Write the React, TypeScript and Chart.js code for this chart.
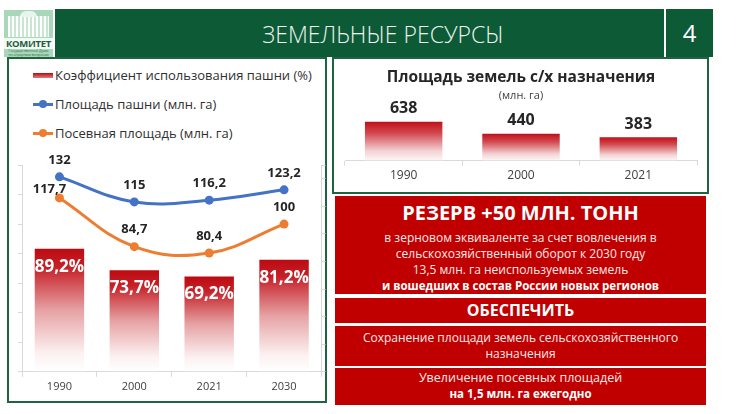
import React, { useEffect, useRef } from 'react';
import { Chart, registerables } from 'chart.js';

Chart.register(...registerables);

const FONT = "'Open Sans', 'DejaVu Sans', sans-serif";
Chart.defaults.font.family = FONT;

// ---- data ----
const years = ['1990', '2000', '2021', '2030'];
const arableUsePct = [89.2, 73.7, 69.2, 81.2];
const arableArea = [132, 115, 116.2, 123.2];
const sownArea = [117.7, 84.7, 80.4, 100];
const seriesNames = [
  'Коэффициент использования пашни (%)',
  'Площадь пашни (млн. га)',
  'Посевная площадь (млн. га)',
];

const landYears = ['1990', '2000', '2021'];
const agriLand = [638, 440, 383];
const landTitle = 'Площадь земель с/х назначения';
const landSubtitle = '(млн. га)';

const fmt = (v: number) => String(v).replace('.', ',');

function redFade(stops: [number, string][]) {
  return (ctx: any) => {
    const chart = ctx.chart;
    if (!chart.chartArea || ctx.type !== 'data') return '#c00000';
    const scale = chart.scales[ctx.dataset.yAxisID || 'y'];
    if (!scale) return '#c00000';
    const top = scale.getPixelForValue(ctx.raw);
    const base = scale.getPixelForValue(0);
    if (!isFinite(top) || !isFinite(base) || top === base) return '#c00000';
    const g = chart.ctx.createLinearGradient(0, top, 0, base);
    stops.forEach(([o, c]) => g.addColorStop(o, c));
    return g;
  };
}

const leftLabels = {
  id: 'leftLabels',
  afterDatasetsDraw(chart: any) {
    const ctx = chart.ctx;
    chart.data.datasets.forEach((ds: any, di: number) => {
      const meta = chart.getDatasetMeta(di);
      meta.data.forEach((el: any, i: number) => {
        const v = ds.data[i];
        ctx.save();
        ctx.textAlign = 'center';
        ctx.textBaseline = 'middle';
        if (ds.type === 'bar') {
          ctx.font = `bold 17px ${FONT}`;
          ctx.fillStyle = '#ffffff';
          ctx.fillText(fmt(v) + '%', el.x, el.y + 18);
        } else {
          ctx.font = `bold 13px ${FONT}`;
          ctx.fillStyle = '#262626';
          let dx = 0;
          let dy = -17;
          if (di === 2 && i === 0) {
            dx = -10;
            dy = -9;
          }
          ctx.fillText(fmt(v), el.x + dx, el.y + dy);
        }
        ctx.restore();
      });
    });
  },
};

const rightLabels = {
  id: 'rightLabels',
  afterDatasetsDraw(chart: any) {
    const ctx = chart.ctx;
    const ds = chart.data.datasets[0];
    chart.getDatasetMeta(0).data.forEach((el: any, i: number) => {
      ctx.save();
      ctx.textAlign = 'center';
      ctx.textBaseline = 'middle';
      ctx.font = `bold 16px ${FONT}`;
      ctx.fillStyle = '#262626';
      ctx.fillText(fmt(ds.data[i]), el.x, el.y - 13);
      ctx.restore();
    });
  },
};

const GREEN = '#0d5a37';
const BORDER = '#1f6342';
const RED = '#c00000';

export default function App() {
  const leftRef = useRef<HTMLCanvasElement>(null);
  const rightRef = useRef<HTMLCanvasElement>(null);

  useEffect(() => {
    const axisGrid = { drawOnChartArea: false, drawTicks: true, tickLength: 4, color: '#d9d9d9' };
    const c1 = new Chart(leftRef.current as HTMLCanvasElement, {
      type: 'bar',
      data: {
        labels: years,
        datasets: [
          {
            type: 'bar',
            label: seriesNames[0],
            data: arableUsePct,
            yAxisID: 'y1',
            backgroundColor: redFade([
              [0, '#bd0a12'],
              [0.15, '#c52027'],
              [0.5, '#e6a2a4'],
              [0.85, '#fcf1f1'],
              [1, '#ffffff'],
            ]),
            barPercentage: 1,
            categoryPercentage: 0.66,
            order: 2,
          } as any,
          {
            type: 'line',
            label: seriesNames[1],
            data: arableArea,
            yAxisID: 'y',
            borderColor: '#4472c4',
            backgroundColor: '#4472c4',
            borderWidth: 3,
            pointRadius: 4.5,
            pointBorderWidth: 0,
            tension: 0.4,
            order: 0,
          } as any,
          {
            type: 'line',
            label: seriesNames[2],
            data: sownArea,
            yAxisID: 'y',
            borderColor: '#ed7d31',
            backgroundColor: '#ed7d31',
            borderWidth: 3,
            pointRadius: 4.5,
            pointBorderWidth: 0,
            tension: 0.4,
            order: 1,
          } as any,
        ],
      },
      options: {
        animation: false,
        responsive: true,
        maintainAspectRatio: false,
        layout: { padding: { left: 8, right: 0, top: 15, bottom: 0 } },
        plugins: { legend: { display: false }, tooltip: { enabled: false } },
        scales: {
          x: {
            grid: { drawOnChartArea: false, drawTicks: true, tickLength: 5, color: '#d9d9d9' },
            border: { color: '#d9d9d9' },
            ticks: { color: '#404040', font: { size: 11 }, padding: 3 },
          },
          y: {
            position: 'left',
            min: 0,
            max: 140,
            ticks: { stepSize: 20, display: false },
            grid: axisGrid,
            border: { color: '#d9d9d9' },
          },
          y1: {
            position: 'right',
            min: 0,
            max: 150,
            ticks: { stepSize: 20, display: false },
            grid: axisGrid,
            border: { color: '#d9d9d9' },
          },
        },
      } as any,
      plugins: [leftLabels],
    });

    const c2 = new Chart(rightRef.current as HTMLCanvasElement, {
      type: 'bar',
      data: {
        labels: landYears,
        datasets: [
          {
            label: landTitle,
            data: agriLand,
            backgroundColor: redFade([
              [0, '#c0101a'],
              [0.3, '#d24a50'],
              [0.75, '#f3d2d3'],
              [1, '#fdf7f7'],
            ]),
            barPercentage: 1,
            categoryPercentage: 0.66,
          } as any,
        ],
      },
      options: {
        animation: false,
        responsive: true,
        maintainAspectRatio: false,
        layout: { padding: { left: 11, right: 9, top: 0, bottom: 0 } },
        plugins: {
          legend: { display: false },
          tooltip: { enabled: false },
          title: {
            display: true,
            text: landTitle,
            color: '#262626',
            font: { size: 15.5, weight: 'bold' },
            padding: { top: 8, bottom: 3 },
          },
          subtitle: {
            display: true,
            text: landSubtitle,
            color: '#404040',
            font: { size: 11 },
            padding: { top: 0, bottom: 3 },
          },
        },
        scales: {
          x: {
            grid: { drawOnChartArea: false, drawTicks: true, tickLength: 5, color: '#d9d9d9' },
            border: { color: '#d9d9d9' },
            ticks: { color: '#404040', font: { size: 12 }, padding: 3 },
          },
          y: { display: false, min: 0, max: 900 },
        },
      } as any,
      plugins: [rightLabels],
    });

    return () => {
      c1.destroy();
      c2.destroy();
    };
  }, []);

  const abs = (l: number, t: number, w: number, h: number): React.CSSProperties => ({
    position: 'absolute',
    left: l,
    top: t,
    width: w,
    height: h,
    boxSizing: 'border-box',
  });

  const legendRow = (i: number, y: number) => {
    const swatch =
      i === 0 ? (
        <div
          style={{
            ...abs(33, y - 2, 20, 5),
            background: 'linear-gradient(#b80a10, #e07a80)',
          }}
        />
      ) : (
        <>
          <div style={{ ...abs(33, y - 1.5, 20, 3), background: i === 1 ? '#4472c4' : '#ed7d31' }} />
          <div
            style={{
              ...abs(39, y - 4, 8, 8),
              borderRadius: '50%',
              background: i === 1 ? '#4472c4' : '#ed7d31',
            }}
          />
        </>
      );
    return (
      <React.Fragment key={i}>
        {swatch}
        <div
          style={{
            position: 'absolute',
            left: 55,
            top: y - 10,
            height: 20,
            lineHeight: '20px',
            fontSize: 13,
            color: '#303030',
            whiteSpace: 'nowrap',
          }}
        >
          {seriesNames[i]}
        </div>
      </React.Fragment>
    );
  };

  const line = (text: string, bold: boolean, size: number, lh: number, color = '#ffffff') => (
    <div
      style={{
        fontSize: size,
        fontWeight: bold ? 700 : 400,
        lineHeight: lh + 'px',
        color,
        whiteSpace: 'nowrap',
        textAlign: 'center',
      }}
    >
      {text}
    </div>
  );

  return (
    <div
      style={{
        position: 'absolute',
        left: 0,
        top: 0,
        width: 756,
        height: 414,
        background: '#ffffff',
        overflow: 'hidden',
        fontFamily: FONT,
      }}
    >
      {/* logo */}
      <div style={{ ...abs(4, 10, 49, 47), background: '#a9d7b9' }} />
      <div
        style={{
          ...abs(8, 16, 41, 21),
          background:
            'repeating-linear-gradient(90deg, #ffffff 0px, #ffffff 2px, #c9e6d2 2px, #c9e6d2 4px)',
        }}
      />
      <div style={{ ...abs(20, 11, 17, 6), background: '#e8f5ec', borderRadius: '8px 8px 0 0' }} />
      <div
        style={{
          ...abs(4, 38, 49, 11),
          background: '#f2faf4',
          color: '#1e5c3b',
          fontSize: 9.5,
          fontWeight: 700,
          lineHeight: '11px',
          textAlign: 'center',
          letterSpacing: -0.3,
        }}
      >
        КОМИТЕТ
      </div>
      <div
        style={{
          ...abs(4, 49, 49, 8),
          color: '#2c6b48',
          fontSize: 3.5,
          lineHeight: '4px',
          textAlign: 'center',
          whiteSpace: 'nowrap',
          overflow: 'hidden',
        }}
      >
        Государственной Думы
        <br />
        по аграрным вопросам
      </div>

      {/* header */}
      <div style={{ ...abs(55, 9, 609, 48), background: GREEN }} />
      <div
        style={{
          position: 'absolute',
          left: 233,
          top: 18,
          width: 300,
          height: 32,
          lineHeight: '32px',
          textAlign: 'center',
          color: '#eef5f0',
          fontSize: 23,
          fontWeight: 300,
          whiteSpace: 'nowrap',
        }}
      >
        ЗЕМЕЛЬНЫЕ РЕСУРСЫ
      </div>
      <div
        style={{
          ...abs(666, 9, 47, 48),
          background: GREEN,
          color: '#ffffff',
          fontSize: 24,
          lineHeight: '48px',
          textAlign: 'center',
        }}
      >
        4
      </div>

      {/* left panel */}
      <div style={{ ...abs(7, 57, 320, 346), border: `2px solid ${BORDER}` }} />
      {[0, 1, 2].map((i) => legendRow(i, [75, 104, 133][i]))}
      <div style={{ ...abs(10, 150, 316, 246) }}>
        <canvas ref={leftRef} />
      </div>

      {/* right panel */}
      <div style={{ ...abs(332, 57, 377, 137), border: `2px solid ${BORDER}` }} />
      <div style={{ ...abs(334, 60, 372, 126) }}>
        <canvas ref={rightRef} />
      </div>

      {/* red boxes */}
      <div style={{ ...abs(335, 196, 371, 98), background: RED, paddingTop: 4 }}>
        {line('РЕЗЕРВ +50 МЛН. ТОНН', true, 20, 26)}
        <div style={{ height: 4 }} />
        {line('в зерновом эквиваленте за счет вовлечения в', false, 12, 16, '#fbe9e9')}
        {line('сельскохозяйственный оборот к 2030 году', false, 12, 16, '#fbe9e9')}
        {line('13,5 млн. га  неиспользуемых земель', false, 12, 16, '#fbe9e9')}
        {line('и вошедших в состав России новых регионов', true, 11.5, 16)}
      </div>
      <div style={{ ...abs(335, 298, 371, 25), background: RED }}>
        {line('ОБЕСПЕЧИТЬ', true, 16, 25)}
      </div>
      <div style={{ ...abs(335, 326, 371, 40), background: RED, paddingTop: 4 }}>
        {line('Сохранение площади земель сельскохозяйственного', false, 12, 16, '#fbe9e9')}
        {line('назначения', false, 12, 16, '#fbe9e9')}
      </div>
      <div style={{ ...abs(335, 368, 371, 37), background: RED, paddingTop: 2 }}>
        {line('Увеличение посевных площадей', false, 12.5, 16, '#fbe9e9')}
        {line('на 1,5 млн. га ежегодно', true, 11.5, 16)}
      </div>
    </div>
  );
}
